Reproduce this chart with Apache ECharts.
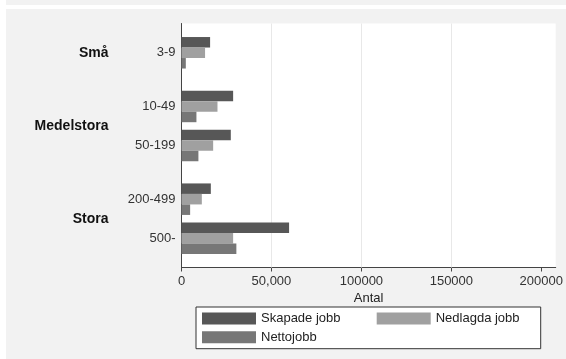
<!DOCTYPE html>
<html>
<head>
<meta charset="utf-8">
<script src="https://cdn.jsdelivr.net/npm/echarts@6/dist/echarts.min.js"></script>
<style>
  html, body { margin: 0; padding: 0; background: #fff; }
  #chart { width: 566px; height: 359px; }
</style>
</head>
<body>
<div id="chart"></div>
<script>
// ---- data ----
const sizeClasses = ['3-9', '10-49', '50-199', '200-499', '500-'];
const sizeGroups = ['Små', 'Medelstora', 'Stora'];
const seriesNames = ['Skapade jobb', 'Nedlagda jobb', 'Nettojobb'];
const skapade = [15900, 28700, 27400, 16300, 59800];
const nedlagda = [13100, 20000, 17600, 11300, 28700];
const netto = [2400, 8300, 9400, 4800, 30500];
const xTickValues = [0, 50000, 100000, 150000, 200000];
const xTickLabels = ['0', '50,000', '100000', '150000', '200000'];
const gridLineValues = [50000, 100000, 150000];

// ---- layout (slots on the category axis) ----
const slotCount = 51;
const sizeSlot = [6, 17, 25, 36, 44];
const groupSlot = [6, 21, 40];

const slotIds = Array.from({length: slotCount}, (_, i) => 's' + i);
const sizeLabelAt = Array(slotCount).fill('');
sizeSlot.forEach((s, i) => { sizeLabelAt[s] = sizeClasses[i]; });
const groupLabelAt = Array(slotCount).fill('');
groupSlot.forEach((s, i) => { groupLabelAt[s] = sizeGroups[i]; });

function toSlots(values) {
  const arr = Array(slotCount).fill(null);
  sizeSlot.forEach((s, i) => { arr[s] = values[i]; });
  return arr;
}

const font = "'Liberation Sans', Arial, sans-serif";
const colors = ['#575757', '#a0a0a0', '#777777'];

const chart = echarts.init(document.getElementById('chart'), null, {renderer: 'canvas'});
chart.setOption({
  backgroundColor: '#f2f2f2',
  animation: false,
  textStyle: { fontFamily: font },
  graphic: [
    { type: 'rect', shape: { x: 0, y: 0, width: 6, height: 359 }, style: { fill: '#fff' }, silent: true },
    { type: 'rect', shape: { x: 6, y: 5, width: 560, height: 4 }, style: { fill: '#fff' }, silent: true }
  ],
  grid: {
    left: 181.5, right: 10, top: 23.5, bottom: 359 - 267.5,
    show: true, backgroundColor: '#fff', borderWidth: 0
  },
  legend: {
    left: 196, top: 307,
    width: 335,
    padding: [5, 6, 5, 6],
    itemGap: 5.7,
    itemWidth: 54, itemHeight: 12,
    icon: 'rect',
    backgroundColor: '#fff',
    borderColor: '#333', borderWidth: 1, borderRadius: 0,
    textStyle: { fontFamily: font, fontSize: 13, color: '#222', lineHeight: 12 },
    data: [
      { name: seriesNames[0], textStyle: { width: 110 } },
      { name: seriesNames[1], textStyle: { width: 99 } },
      { name: seriesNames[2], textStyle: { width: 110 } }
    ]
  },
  xAxis: {
    type: 'value',
    min: 0, max: 208000, interval: 50000,
    name: 'Antal', nameLocation: 'middle', nameGap: 19,
    nameTextStyle: { fontFamily: font, fontSize: 13, color: '#222' },
    axisLine: { show: true, lineStyle: { color: '#444', width: 1 } },
    axisTick: { show: true, length: 4, lineStyle: { color: '#444' }, customValues: xTickValues },
    axisLabel: {
      margin: 7, fontFamily: font, fontSize: 13, color: '#333',
      customValues: xTickValues,
      formatter: (v) => { const i = xTickValues.indexOf(v); return i >= 0 ? xTickLabels[i] : ''; }
    },
    splitLine: { show: false }
  },
  yAxis: [
    {
      type: 'category', inverse: true, boundaryGap: false,
      data: slotIds,
      axisLine: { show: true, lineStyle: { color: '#444', width: 1 } },
      axisTick: { show: false },
      splitLine: { show: false },
      axisLabel: {
        interval: 0, margin: 6, fontFamily: font, fontSize: 13, color: '#333',
        formatter: (v, i) => sizeLabelAt[i]
      }
    },
    {
      type: 'category', inverse: true, boundaryGap: false, position: 'left', offset: 67,
      data: slotIds,
      axisLine: { show: false },
      axisTick: { show: false },
      splitLine: { show: false },
      axisLabel: {
        interval: 0, margin: 6, fontFamily: font, fontSize: 14, fontWeight: 'bold', color: '#111',
        formatter: (v, i) => groupLabelAt[i]
      }
    }
  ],
  series: [
    {
      name: seriesNames[0], type: 'bar', yAxisIndex: 0, data: toSlots(skapade), barWidth: 10.5, barGap: 0,
      itemStyle: { color: colors[0] }, z: 3,
      markLine: {
        silent: true, symbol: 'none', z: 1,
        label: { show: false },
        lineStyle: { color: '#e8e8e8', width: 1, type: 'solid' },
        emphasis: { disabled: true },
        data: gridLineValues.map(v => ({ xAxis: v }))
      }
    },
    { name: seriesNames[1], type: 'bar', yAxisIndex: 0, data: toSlots(nedlagda), barWidth: 10.5, barGap: 0, itemStyle: { color: colors[1] }, z: 3 },
    { name: seriesNames[2], type: 'bar', yAxisIndex: 0, data: toSlots(netto), barWidth: 10.5, barGap: 0, itemStyle: { color: colors[2] }, z: 3 }
  ]
});
</script>
</body>
</html>
